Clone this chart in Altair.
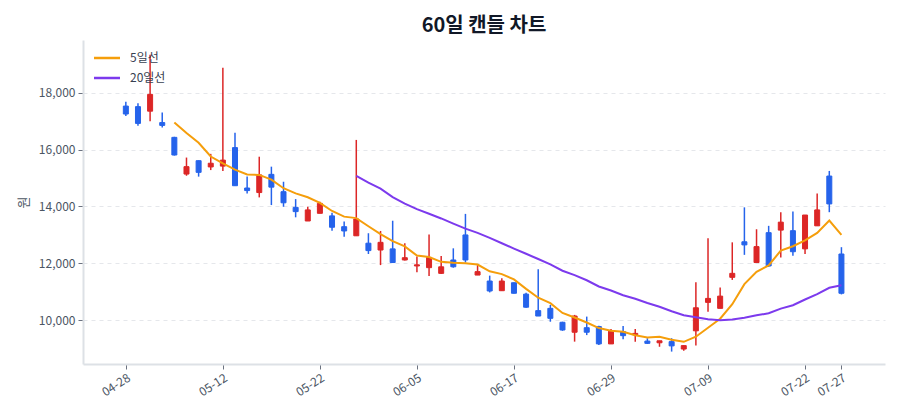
import pandas as pd
import altair as alt

# trading-day labels (only every 8th and the last one are shown on the axis)
dates = [
    "04-28", "04-29", "04-30", "05-01", "05-02", "05-06", "05-07", "05-09", "05-12",
    "05-13", "05-14", "05-15", "05-16", "05-19", "05-20", "05-21", "05-22",
    "05-23", "05-26", "05-27", "05-28", "05-29", "05-30", "06-02", "06-05",
    "06-06", "06-09", "06-10", "06-11", "06-12", "06-13", "06-16", "06-17",
    "06-18", "06-19", "06-20", "06-23", "06-24", "06-25", "06-26", "06-29",
    "06-30", "07-01", "07-02", "07-03", "07-04", "07-07", "07-08", "07-09",
    "07-10", "07-11", "07-14", "07-15", "07-16", "07-17", "07-18", "07-22",
    "07-23", "07-24", "07-27",
]
opens = [17530, 17510, 17350, 16950, 16430, 15140, 15610, 15390, 15420, 16070,
         14650, 14490, 15130, 14520, 13970, 13490, 13760, 13670, 13290, 12970,
         12710, 12470, 12510, 12120, 11910, 11850, 11650, 12120, 13000, 11590,
         11380, 11040, 11320, 10920, 10340, 10420, 9930, 9580, 9740, 9780,
         9170, 9600, 9490, 9270, 9210, 9250, 8990, 9630, 10630, 10420,
         11510, 12760, 12030, 13080, 13170, 13150, 12510, 13320, 15070, 12330]
highs = [17680, 17630, 19330, 17300, 16450, 15720, 15620, 15850, 18880, 16590,
         15050, 15750, 15400, 14870, 14260, 13990, 14170, 13780, 13470, 16340,
         13060, 13140, 13500, 12710, 12240, 13020, 12260, 12530, 13740, 11940,
         11570, 11480, 11330, 10970, 11790, 10540, 9950, 10190, 10130, 9810,
         9690, 9800, 9690, 9370, 9280, 9370, 9110, 11340, 12880, 11150,
         12740, 13970, 13200, 13320, 13800, 13820, 13700, 14460, 15250, 12570]
lows = [17180, 16840, 17000, 16780, 15790, 15080, 15050, 15280, 15250, 14730,
        14460, 14320, 14050, 13990, 13620, 13490, 13760, 13150, 12940, 12970,
        12330, 11940, 12030, 12100, 11690, 11560, 11630, 11850, 12030, 11590,
        10980, 11040, 10940, 10440, 10150, 9950, 9630, 9250, 9480, 9130,
        9170, 9330, 9250, 9170, 9070, 8900, 8930, 9110, 10300, 10420,
        11420, 12300, 12030, 11880, 12210, 12270, 12330, 13320, 13800, 10910]
closes = [17250, 16920, 17940, 16850, 15810, 15400, 15200, 15520, 15630, 14730,
          14560, 15110, 14680, 14130, 13820, 13880, 14110, 13270, 13140, 13560,
          12450, 12740, 12030, 12200, 11950, 12210, 11880, 11880, 12120, 11710,
          11030, 11380, 10950, 10460, 10150, 10070, 9660, 10150, 9580, 9170,
          9620, 9460, 9540, 9190, 9280, 9100, 9110, 10440, 10770, 10850,
          11650, 12650, 12590, 11910, 13450, 12410, 13700, 13880, 14090, 10950]

tick_idx = [0, 8, 16, 24, 32, 40, 48, 56, 59]
y_ticks = [10000, 12000, 14000, 16000, 18000]
ma_names = ["5일선", "20일선"]
ma_colors = ["#f59e0b", "#7c3aed"]
up_color = "#dc2626"
down_color = "#2563eb"

df = pd.DataFrame({
    "idx": list(range(len(dates))),
    "date": dates,
    "open": opens,
    "high": highs,
    "low": lows,
    "close": closes,
})

label_expr = "[" + ",".join(f"'{d}'" for d in dates) + "][datum.value]"

x_enc = alt.X(
    "idx:Q",
    scale=alt.Scale(domain=[-3.12, 62.18], nice=False, zero=False),
    axis=alt.Axis(values=tick_idx, labelExpr=label_expr, title=None, grid=False,
                  labelAngle=-33, labelFontSize=12, labelColor="#4b5563",
                  tickColor="#6b7280", tickSize=5, domainColor="#dde1e6",
                  domainWidth=2, labelPadding=3),
)
y_scale = alt.Scale(domain=[8464, 19852], nice=False, zero=False)
y_axis = alt.Axis(values=y_ticks, format=",d", title="원", titleAngle=-90,
                  titleFontSize=13, titleFontWeight="normal", titleColor="#4b5563",
                  titlePadding=8, labelFontSize=12, labelColor="#4b5563",
                  tickColor="#6b7280", tickSize=5, domainColor="#dde1e6",
                  domainWidth=2, gridColor="#e5e7eb", gridDash=[4, 4], labelPadding=3)

candle_color = alt.condition("datum.close >= datum.open", alt.value(up_color), alt.value(down_color))

base = alt.Chart(df)

wicks = base.mark_rule(strokeWidth=1.5).encode(
    x=x_enc,
    y=alt.Y("low:Q", scale=y_scale, axis=y_axis),
    y2="high:Q",
    color=candle_color,
)

bodies = base.mark_bar(size=5, strokeWidth=1).encode(
    x="idx:Q",
    y="open:Q",
    y2="close:Q",
    color=candle_color,
    stroke=candle_color,
)

# moving averages of the closing price, 5 and 20 days
ma_lines = base.transform_window(
    ma5="mean(close)", n5="count()", frame=[-4, 0], sort=[alt.SortField("idx")]
).transform_window(
    ma20="mean(close)", n20="count()", frame=[-19, 0], sort=[alt.SortField("idx")]
).transform_calculate(
    **{
        ma_names[0]: "datum.n5 == 5 ? datum.ma5 : null",
        ma_names[1]: "datum.n20 == 20 ? datum.ma20 : null",
    }
).transform_fold(
    ma_names, as_=["series", "ma"]
).transform_filter(
    "isValid(datum.ma)"
).mark_line(strokeWidth=2).encode(
    x="idx:Q",
    y="ma:Q",
    color=alt.Color(
        "series:N",
        scale=alt.Scale(domain=ma_names, range=ma_colors),
        legend=alt.Legend(title=None, orient="none", legendX=16, legendY=10,
                          symbolType="M-2,0L2,0", symbolSize=169, symbolStrokeWidth=2.5,
                          labelFontSize=12, labelColor="#374151", labelOffset=15,
                          rowPadding=6, padding=0),
    ),
)

chart = alt.layer(wicks, bodies, ma_lines).properties(
    width=802,
    height=324,
    autosize=alt.AutoSizeParams(type="none"),
    padding={"left": 75, "top": 32, "right": 7, "bottom": 48},
    title=alt.TitleParams("60일 캔들 차트", fontSize=20, fontWeight="bold",
                          color="#111827", anchor="middle", offset=4),
).configure(
    font="Noto Sans CJK KR",
).configure_view(
    stroke=None,
)

chart.save("out.html", embed_options={"renderer": "svg", "actions": False})
